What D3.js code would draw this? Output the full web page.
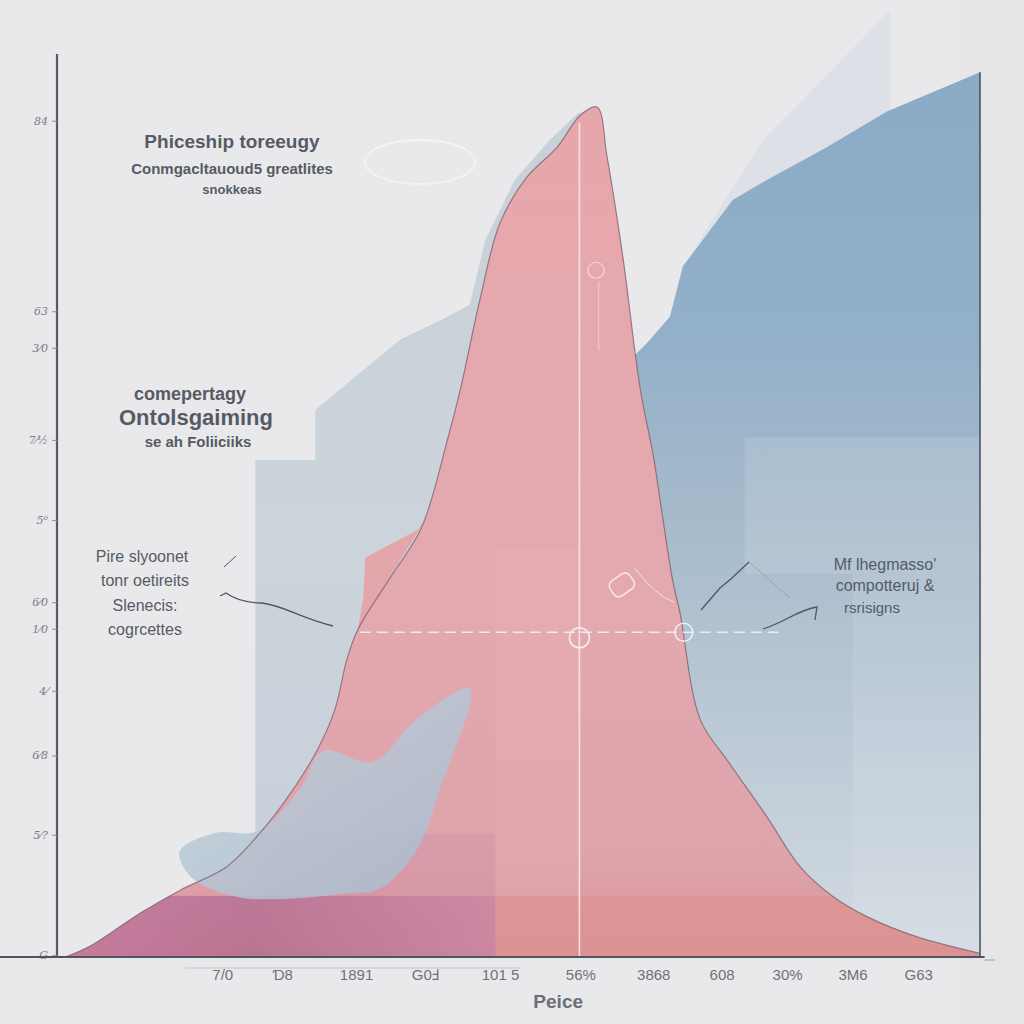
<!DOCTYPE html>
<html><head><meta charset="utf-8">
<script src="https://cdn.jsdelivr.net/npm/d3@7"></script>
<style>
html,body{margin:0;padding:0;background:#e9e9eb;}
svg{display:block;font-family:"Liberation Sans",Arial,sans-serif;}
</style></head>
<body>
<svg id="chart" width="1024" height="1024"></svg>
<script>
// ---- data (x in 0..100 price units, y in 0..100 density units) ----
const xTickValues = [17.9, 24.4, 32.4, 39.9, 48.0, 56.7, 64.6, 72.0, 79.1, 86.2, 93.3];
const xTickLabels = ["7/0", "Ɗ8", "1891", "G0Ⅎ", "101 5", "56%", "3868", "608", "30%", "3M6", "G63"];
const yTickValues = [91.7, 70.8, 66.8, 56.7, 47.9, 38.9, 36.0, 29.2, 22.1, 13.4, 0.2];
const yTickLabels = ["84", "63", "3⁄0", "7⁄½", "5⁰", "6⁄0", "1⁄0", "4⁄", "6⁄8", "5⁄?", "G"];

// main pink distribution
const pinkX = [0.9, 3.6, 9.0, 13.3, 18.4, 22.0, 25.2, 28.2, 30.1, 31.4, 32.6, 36.1, 39.5, 42.3, 43.7, 45.8, 48.0, 50.9, 54.2, 56.7, 58.5, 59.6, 61.3, 63.2, 64.6, 65.3, 66.7, 67.5, 69.7, 72.6, 76.9, 80.5, 84.1, 87.8, 93.2, 100];
const pinkY = [0, 1.2, 4.8, 7.3, 9.9, 13.6, 17.8, 22.7, 27.1, 32.6, 35.9, 41.6, 47.1, 56.7, 62.2, 72.0, 80.5, 85.5, 88.8, 92.3, 93.2, 87.7, 76.8, 62.2, 55.0, 50.4, 41.3, 37.7, 26.0, 21.6, 15.4, 9.9, 6.6, 4.4, 2.2, 0.4];

// grey-blue mountain behind the peak
const backX = [21.5, 28.0, 28.0, 31.2, 37.2, 41.5, 44.7, 46.4, 49.6, 53.4, 56.4, 58.6, 61.0, 64.2];
const backY = [54.5, 54.5, 60.0, 62.7, 67.7, 69.8, 71.5, 78.6, 85.2, 89.6, 92.5, 93.2, 72.0, 39.1];

// blue series on the right
const blueX = [62.1, 63.9, 66.4, 67.8, 73.2, 76.9, 83.4, 89.9, 100];
const blueY = [65.5, 67.3, 70.2, 75.7, 83.0, 85.2, 88.8, 92.7, 97.0];

// pale plane above the blue series
const planeX = [67.8, 76.5, 90.3, 90.3];
const planeY = [75.7, 89.6, 103.8, 92.7];

// pale blue blob over the lower left
const blobX = [13.3, 17.1, 21.7, 26.3, 28.8, 34.2, 39.0, 44.7, 41.5, 39.0, 35.0, 30.7, 25.2, 19.4, 14.5];
const blobY = [11.6, 13.6, 13.8, 18.4, 22.6, 21.4, 26.1, 29.4, 18.4, 11.8, 7.5, 6.9, 6.4, 6.6, 8.8];

// left shoulder of the pink curve
const shoulderX = [32.6, 33.2, 33.4, 39.0, 39.9, 36.0];
const shoulderY = [35.9, 39.5, 43.8, 46.8, 47.9, 41.6];

// pale background bars
const barX0 = [21.5, 28.0, 37.2, 74.5, 86.2];
const barX1 = [28.0, 37.2, 45.0, 100, 100];
const barTop = [54.5, 60.0, 67.7, 57.0, 42.0];

const svg = d3.select("#chart");
const W = 1024, H = 1024;
const x = d3.scaleLinear().domain([0, 100]).range([57, 980]);
const y = d3.scaleLinear().domain([0, 100]).range([957, 45]);

const defs = svg.append("defs");
function lin(id, x1, y1, x2, y2, stops) {
  const g = defs.append("linearGradient").attr("id", id)
    .attr("x1", x1).attr("y1", y1).attr("x2", x2).attr("y2", y2);
  stops.forEach(s => g.append("stop").attr("offset", s[0]).attr("stop-color", s[1]).attr("stop-opacity", s[2] == null ? 1 : s[2]));
}
lin("gBlue", 0, 0, 0, 1, [[0, "#8aaac6"], [0.3, "#93b0c9"], [0.5, "#a6bacb"], [0.75, "#bccad6"], [1, "#d3dae1"]]);
lin("gPink", 0, 0, 0, 1, [[0, "#e6a7ac"], [0.6, "#e3a9af"], [0.88, "#dfa3ab"], [1, "#d9959c"]]);
lin("gBottomL", 0, 0, 1, 0, [[0, "#b5679b"], [0.45, "#a05a8a"], [1, "#c07aa2"]]);
lin("gBack", 0, 0, 0, 1, [[0, "#c8d0d8"], [0.5, "#ccd4db"], [1, "#c6d0d9"]]);
lin("gBlob", 0, 0, 1, 1, [[0, "#c4d1dc"], [1, "#a6bbcd"]]);

// background
svg.append("rect").attr("width", W).attr("height", H).attr("fill", "#e9e9eb");
svg.append("rect").attr("x", 960).attr("y", 0).attr("width", 64).attr("height", H).attr("fill", "#e6e6e8");

// background bars
svg.append("g").selectAll("rect").data(barTop).join("rect")
  .attr("x", (d, i) => x(barX0[i])).attr("width", (d, i) => x(barX1[i]) - x(barX0[i]))
  .attr("y", d => y(d)).attr("height", d => y(0) - y(d))
  .attr("fill", "#d9dfe4").attr("opacity", 0.85);

const smooth = d3.curveCatmullRom.alpha(0.5);
const area = (xs, ys, curve) => d3.area().x((d, i) => x(xs[i])).y0(y(0)).y1((d, i) => y(ys[i])).curve(curve || smooth)(xs);
const line = (xs, ys, curve) => d3.line().x((d, i) => x(xs[i])).y((d, i) => y(ys[i])).curve(curve || smooth)(xs);

// pale plane
svg.append("path").attr("d", line(planeX, planeY, d3.curveLinearClosed)).attr("fill", "#d9dfe6").attr("opacity", 0.8);

// back mountain
svg.append("path").attr("d", area(backX, backY, d3.curveLinear)).attr("fill", "url(#gBack)");

// blue right area
svg.append("path").attr("d", area(blueX, blueY, d3.curveLinear)).attr("fill", "url(#gBlue)");
// translucent panes over the blue
svg.append("rect").attr("x", x(74.5)).attr("y", y(57)).attr("width", x(100) - x(74.5)).attr("height", y(42) - y(57)).attr("fill", "#ffffff").attr("opacity", 0.12);
svg.append("rect").attr("x", x(86.2)).attr("y", y(42)).attr("width", x(100) - x(86.2)).attr("height", y(0) - y(42)).attr("fill", "#ffffff").attr("opacity", 0.1);

// pink main
const pinkPath = area(pinkX, pinkY, smooth);
defs.append("clipPath").attr("id", "clipPink").append("path").attr("d", pinkPath);
svg.append("path").attr("d", pinkPath).attr("fill", "url(#gPink)");

const inPink = svg.append("g").attr("clip-path", "url(#clipPink)");
inPink.append("rect").attr("x", x(0)).attr("y", y(6.7)).attr("width", x(47.5) - x(0)).attr("height", y(0) - y(6.7)).attr("fill", "url(#gBottomL)").attr("opacity", 0.55);
inPink.append("rect").attr("x", x(47.5)).attr("y", y(6.7)).attr("width", x(100) - x(47.5)).attr("height", y(0) - y(6.7)).attr("fill", "#dd8f86").attr("opacity", 0.45);
inPink.append("rect").attr("x", x(21.5)).attr("y", y(13.5)).attr("width", x(47.5) - x(21.5)).attr("height", y(6.7) - y(13.5)).attr("fill", "#c98aa6").attr("opacity", 0.3);
inPink.append("rect").attr("x", x(47.5)).attr("y", y(45)).attr("width", x(56.7) - x(47.5)).attr("height", y(6.7) - y(45)).attr("fill", "#eab2b5").attr("opacity", 0.25);

// shoulder
svg.append("path").attr("d", line(shoulderX, shoulderY, d3.curveLinearClosed)).attr("fill", "#e2a6ab");

// pale blue blob
svg.append("path").attr("d", line(blobX, blobY, d3.curveCatmullRomClosed.alpha(0.5))).attr("fill", "url(#gBlob)").attr("opacity", 0.85);

// dark outline of the pink curve
svg.append("path").attr("d", line(pinkX, pinkY, smooth)).attr("fill", "none").attr("stroke", "#7f5c6c").attr("stroke-width", 1.2).attr("opacity", 0.75);

// white guide lines
svg.append("line").attr("x1", x(56.6)).attr("x2", x(56.6)).attr("y1", y(91.5)).attr("y2", y(0))
  .attr("stroke", "#f6eef0").attr("stroke-width", 1.6).attr("opacity", 0.85);
svg.append("line").attr("x1", x(32.8)).attr("x2", x(78.5)).attr("y1", y(35.6)).attr("y2", y(35.6))
  .attr("stroke", "#f8f4f5").attr("stroke-width", 1.5).attr("stroke-dasharray", "11,6").attr("opacity", 0.85);
svg.append("circle").attr("cx", x(56.6)).attr("cy", y(35.0)).attr("r", 10).attr("fill", "none").attr("stroke", "#f6eef0").attr("stroke-width", 1.5);
svg.append("circle").attr("cx", x(67.9)).attr("cy", y(35.6)).attr("r", 9).attr("fill", "none").attr("stroke", "#eef2f5").attr("stroke-width", 1.5);
svg.append("rect").attr("x", -12).attr("y", -9).attr("width", 24).attr("height", 18).attr("rx", 6)
  .attr("transform", `translate(${x(61.2)},${y(40.8)}) rotate(-35)`).attr("fill", "none").attr("stroke", "#f6eaec").attr("stroke-width", 1.5);
svg.append("path").attr("d", `M${x(62.5)},${y(42.7)} Q${x(65)},${y(39.5)} ${x(66.9)},${y(38.9)}`).attr("fill", "none").attr("stroke", "#f6eaec").attr("stroke-width", 1).attr("opacity", 0.8);
svg.append("circle").attr("cx", x(58.4)).attr("cy", y(75.3)).attr("r", 8).attr("fill", "none").attr("stroke", "#f3e2e4").attr("stroke-width", 1.2).attr("opacity", 0.8);
svg.append("line").attr("x1", x(58.7)).attr("x2", x(58.7)).attr("y1", y(74)).attr("y2", y(66.5)).attr("stroke", "#f3e2e4").attr("stroke-width", 1).attr("opacity", 0.7);
svg.append("ellipse").attr("cx", 420).attr("cy", 162).attr("rx", 55).attr("ry", 22).attr("fill", "none").attr("stroke", "#f5f5f6").attr("stroke-width", 2).attr("opacity", 0.8);

// callout lines
const callout = svg.append("g").attr("fill", "none").attr("stroke", "#4f5660").attr("stroke-width", 1.3);
callout.append("path").attr("d", "M220,596 L226,593 C236,600 250,603 262,603 C285,606 300,618 333,626");
callout.append("path").attr("d", "M224,567 L236,556").attr("stroke-width", 1);
callout.append("path").attr("d", "M701,610 L720,588 L732,578 L749,562");
callout.append("path").attr("d", "M749,562 L790,598").attr("stroke", "#7d8893").attr("stroke-width", 0.8).attr("opacity", 0.6);
callout.append("path").attr("d", "M763,629 C785,622 798,610 817,607 L815,620");

// axes
const yAxis = d3.axisLeft(y).tickValues(yTickValues).tickFormat((d, i) => yTickLabels[i]).tickSize(5).tickPadding(4);
const gy = svg.append("g").attr("transform", `translate(${x(0)},0)`).call(yAxis);
gy.select(".domain").attr("stroke", "#565c67").attr("stroke-width", 2.2).attr("d", `M0,${y(99)}V${y(0)}`);
gy.selectAll(".tick line").attr("stroke", "#8a8f96").attr("stroke-width", 1);
gy.selectAll(".tick text").attr("fill", "#7a7f86").attr("font-family", "DejaVu Serif, serif").attr("font-size", 11).attr("font-style", "italic");

const xAxis = d3.axisBottom(x).tickValues(xTickValues).tickFormat((d, i) => xTickLabels[i]).tickSize(0).tickPadding(12);
const gx = svg.append("g").attr("transform", `translate(0,${y(0)})`).call(xAxis);
gx.select(".domain").attr("stroke", "#4f5560").attr("stroke-width", 2).attr("d", `M0,0H${x(100.5)}`);
gx.selectAll(".tick text").attr("fill", "#6d727a").attr("font-size", 15).attr("font-family", "Liberation Sans, Arial, sans-serif");
svg.append("line").attr("x1", 185).attr("x2", 520).attr("y1", 968).attr("y2", 968).attr("stroke", "#c4c6ca").attr("stroke-width", 1.2);
svg.append("line").attr("x1", x(100)).attr("x2", x(100)).attr("y1", y(97.0)).attr("y2", y(0)).attr("stroke", "#4c5763").attr("stroke-width", 1.6);
svg.append("line").attr("x1", x(100.5)).attr("x2", 995).attr("y1", 960).attr("y2", 960).attr("stroke", "#9ba0a6").attr("stroke-width", 1);
svg.append("text").attr("x", x(54.3)).attr("y", 1008).attr("text-anchor", "middle")
  .attr("font-size", 19).attr("font-weight", "bold").attr("fill", "#6b7078").text("Peice");

// annotation texts
const notes = [
  {t: "Phiceship toreeugy", x: 232, y: 148, s: 19, w: "bold"},
  {t: "Conmgacltauoud5 greatlites", x: 232, y: 174, s: 15, w: "600"},
  {t: "snokkeas", x: 232, y: 194, s: 13, w: "600"},
  {t: "comepertagy", x: 190, y: 400, s: 18, w: "bold"},
  {t: "Ontolsgaiming", x: 196, y: 425, s: 22, w: "bold"},
  {t: "se ah Foliiciiks", x: 198, y: 447, s: 15, w: "600"},
  {t: "Pire slyoonet", x: 142, y: 562, s: 16, w: "normal"},
  {t: "tonr oetireits", x: 145, y: 586, s: 16, w: "normal"},
  {t: "Slenecis:", x: 145, y: 611, s: 16, w: "normal"},
  {t: "cogrcettes", x: 145, y: 635, s: 16, w: "normal"},
  {t: "Mf lhegmasso'", x: 885, y: 570, s: 16, w: "normal"},
  {t: "compotteruj &", x: 885, y: 591, s: 16, w: "normal"},
  {t: "rsrisigns", x: 872, y: 613, s: 15, w: "normal"}
];
svg.append("g").selectAll("text").data(notes).join("text")
  .attr("x", d => d.x).attr("y", d => d.y).attr("text-anchor", "middle")
  .attr("font-size", d => d.s).attr("font-weight", d => d.w)
  .attr("fill", "#555b64").text(d => d.t);
</script>
</body></html>
